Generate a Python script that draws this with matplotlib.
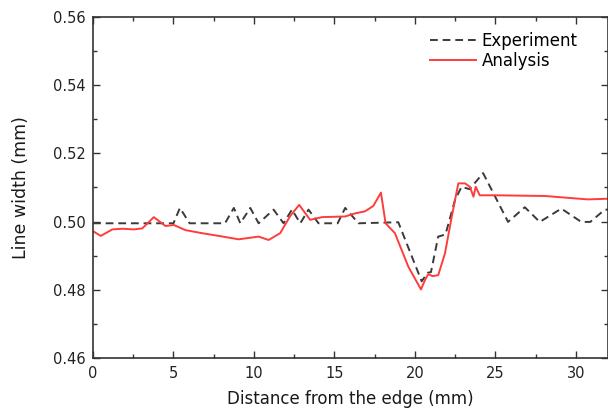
import matplotlib
matplotlib.use("Agg")
import matplotlib.pyplot as plt
from matplotlib.ticker import MultipleLocator

plt.rcParams['font.family'] = ['DejaVu Sans']

# Experiment (dashed)
exp_x = [0.0, 5.0, 5.4, 6.0, 8.2, 8.75, 9.15, 9.77, 10.29, 11.22, 11.84, 12.36, 12.88,
         13.39, 14.01, 15.2, 15.67, 16.49, 18.97, 20.42, 20.8, 21.0, 21.45, 21.9, 22.49,
         22.9, 23.4, 24.24, 25.79, 26.83, 27.76, 29.1, 30.34, 30.9, 31.8, 32.0]
exp_y = [0.4995, 0.4995, 0.504, 0.4995, 0.4995, 0.504, 0.4995, 0.504, 0.4995, 0.5035,
         0.4995, 0.5035, 0.4995, 0.5035, 0.4995, 0.4995, 0.504, 0.4995, 0.4998, 0.4825,
         0.4850, 0.4852, 0.4956, 0.4962, 0.5063, 0.5102, 0.5095, 0.5142, 0.4999, 0.5042,
         0.4999, 0.5038, 0.4999, 0.4999, 0.5035, 0.5035]

# Analysis (solid red)
ana_x = [0.06, 0.48, 1.2, 1.82, 2.54, 3.06, 3.78, 4.5, 5.02, 5.74, 6.77, 7.81, 9.05,
         10.29, 10.91, 11.63, 12.25, 12.81, 13.49, 14.22, 15.67, 16.28, 16.9, 17.42,
         17.89, 18.18, 18.76, 19.59, 20.38, 20.63, 20.83, 21.1, 21.45, 21.87, 22.29,
         22.7, 23.11, 23.42, 23.64, 23.78, 24.03, 24.97, 28.07, 30.75, 32.0]
ana_y = [0.4970, 0.4958, 0.4977, 0.4979, 0.4977, 0.4980, 0.5013, 0.4987, 0.4990, 0.4975,
         0.4966, 0.4958, 0.4948, 0.4956, 0.4946, 0.4966, 0.5016, 0.5049, 0.5005, 0.5013,
         0.5015, 0.5024, 0.5030, 0.5046, 0.5085, 0.4995, 0.4966, 0.4868, 0.4801, 0.4829,
         0.4846, 0.4840, 0.4843, 0.4907, 0.5014, 0.5112, 0.5112, 0.5102, 0.5073, 0.5102,
         0.5077, 0.5077, 0.5075, 0.5065, 0.5067]

fig = plt.figure(figsize=(6.08, 4.12), dpi=100)
ax = fig.add_axes([0.153, 0.131, 0.847, 0.828])

ax.plot(exp_x, exp_y, linestyle=(0, (4, 2.5)), color='#3a3a3a', linewidth=1.4, label='Experiment')
ax.plot(ana_x, ana_y, color='#ff3c3c', linewidth=1.4, label='Analysis')

ax.set_xlim(0, 32)
ax.set_ylim(0.46, 0.56)
ax.xaxis.set_major_locator(MultipleLocator(5))
ax.xaxis.set_minor_locator(MultipleLocator(2.5))
ax.yaxis.set_major_locator(MultipleLocator(0.02))
ax.yaxis.set_minor_locator(MultipleLocator(0.01))
ax.yaxis.set_major_formatter(plt.FormatStrFormatter('%.2f'))
ax.tick_params(which='both', direction='in', top=True, right=True, labelsize=10.5,
               colors='#333333', labelcolor='#222222', pad=5.5)
ax.tick_params(which='major', length=5, width=1)
ax.tick_params(which='minor', length=3, width=1)
for s in ax.spines.values():
    s.set_color('#333333')
    s.set_linewidth(1.2)

ax.set_xlabel('Distance from the edge (mm)', fontsize=12, color='#1a1a1a', labelpad=7)
ax.set_ylabel('Line width (mm)', fontsize=12.5, color='#1a1a1a', labelpad=16)

ax.legend(loc='upper left', bbox_to_anchor=(0.654, 0.955), frameon=False, fontsize=12,
          borderpad=0, borderaxespad=0, handlelength=2.8, handletextpad=0.3,
          labelspacing=0.1)

fig.savefig('out.png', dpi=100)
